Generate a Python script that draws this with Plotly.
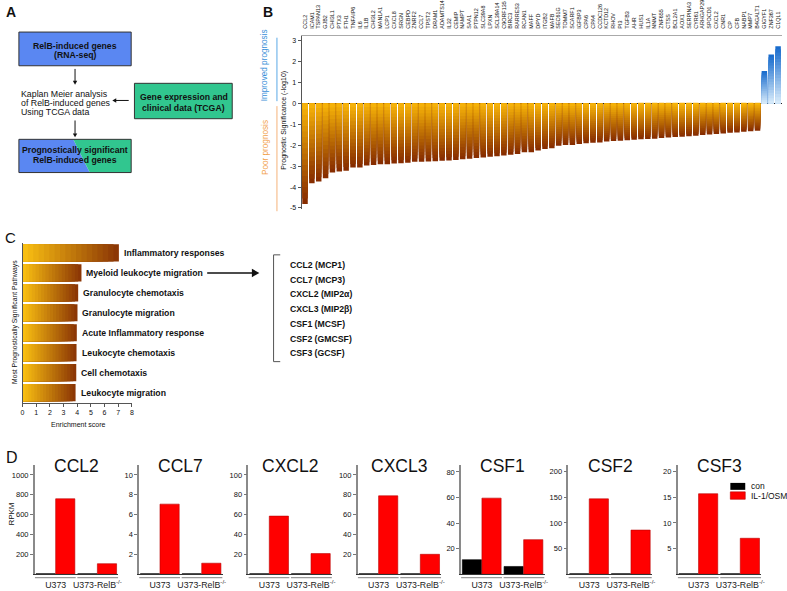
import plotly.graph_objects as go

W, H = 787, 591
def X(px): return px / W
def Y(py): return 1 - py / H

FONT = "Liberation Sans, Arial, sans-serif"

# ---------------- Panel B data ----------------
genes = ["CCL2", "ICAM1", "TSPAN13", "GJB2", "CHI3L1", "PTX3", "FTH1", "TNFAIP6", "IL6", "IL1B",
         "CHI3L2", "MAN1A1", "LCP1", "CXCL8", "SRGN", "CEBPD", "ZNRF2", "CCL7", "TPST2", "DRAM1",
         "ADAMTS14", "IL32", "CEMIP", "NAMPT", "SAA1", "PTPN12", "SLC39A8", "LPXN", "SCL39A14", "C9ORF135",
         "BIRC3", "RARRES3", "RCAN1", "MAFF", "DPYD", "ITGB2", "MAFB", "SEC61G", "TOMM7", "SCARF1",
         "IGFBP3", "CPA6", "CPA4", "CCDC126", "KCTD12", "RHOV", "PI3", "TGFB3", "AHR", "HUS1",
         "IL1A", "NNMT", "ZNF655", "CTSS", "BCL2A1", "AOX1", "SERPINA3", "CYR61", "ARHGAP29", "SPOCD1",
         "CXCL2", "CNR1", "CP", "CFB", "NABP1", "MMP7", "B4GALT1", "GIGYF1", "ZNF367", "C1QL1"]
significance = [-4.81, -3.81, -3.73, -3.57, -3.30, -3.25, -3.22, -3.06, -3.06, -2.97,
                -2.94, -2.90, -2.90, -2.87, -2.86, -2.83, -2.79, -2.78, -2.77, -2.76,
                -2.74, -2.72, -2.70, -2.67, -2.64, -2.61, -2.58, -2.55, -2.52, -2.49,
                -2.45, -2.41, -2.33, -2.33, -2.25, -2.17, -2.14, -2.02, -1.98, -1.98,
                -1.94, -1.90, -1.87, -1.86, -1.81, -1.79, -1.78, -1.76, -1.73, -1.71,
                -1.70, -1.68, -1.65, -1.63, -1.60, -1.59, -1.56, -1.54, -1.51, -1.48,
                -1.46, -1.43, -1.40, -1.38, -1.35, -1.33, -1.30, 1.56, 2.35, 2.75]
b_ticks = [-5, -4, -3, -2, -1, 0, 1, 2, 3]

# ---------------- Panel C data ----------------
pathways = ["Inflammatory responses", "Myeloid leukocyte migration", "Granulocyte chemotaxis",
            "Granulocyte migration", "Acute Inflammatory response", "Leukocyte chemotaxis",
            "Cell chemotaxis", "Leukocyte migration"]
enrichment = [7.05, 4.31, 4.07, 4.02, 3.97, 3.95, 3.93, 3.88]
c_ticks = [0, 1, 2, 3, 4, 5, 6, 7, 8]
chemokines = ["CCL2 (MCP1)", "CCL7 (MCP3)", "CXCL2 (MIP2α)", "CXCL3 (MIP2β)",
              "CSF1 (MCSF)", "CSF2 (GMCSF)", "CSF3 (GCSF)"]

# ---------------- Panel D data ----------------
d_genes = ["CCL2", "CCL7", "CXCL2", "CXCL3", "CSF1", "CSF2", "CSF3"]
cell_lines = ["U373", "U373-RelB<sup>-/-</sup>"]
con_U373 = [4, 0.04, 0.4, 0.4, 11.3, 0.8, 0.08]
con_RelB = [4, 0.04, 0.4, 0.4, 6.0, 0.8, 0.08]
il_U373 = [760, 7.06, 58.5, 79, 59.5, 147, 15.7]
il_RelB = [105, 1.1, 20.7, 20.0, 27, 86, 7.0]
d_tickvals = [[200, 400, 600, 800, 1000], [2, 4, 6, 8, 10], [20, 40, 60, 80, 100],
              [20, 40, 60, 80, 100], [20, 40, 60, 80], [50, 100, 150, 200], [5, 10, 15, 20]]

# layout config (not data)
d_ymax = [1100, 11, 110, 110, 85.4, 213, 21.3]
d_left = [33, 138, 248, 358, 462, 570, 680]
D_W = 84
D_TOP, D_BOT = 466, 576

def lerp(c1, c2, t):
    return "rgb(%d,%d,%d)" % tuple(round(a + (b - a) * t) for a, b in zip(c1, c2))

ORANGE_FAR, ORANGE_NEAR = (135, 45, 0), (246, 178, 8)
BLUE_FAR, BLUE_NEAR = (25, 108, 205), (214, 234, 250)
C_FAR, C_NEAR = (140, 55, 5), (248, 190, 18)

fig = go.Figure()
NL = 18

# Panel B gradient bars (overlaid layers)
for k in range(NL):
    frac = (NL - k) / NL
    t = k / (NL - 1)
    cols = [lerp(ORANGE_FAR, ORANGE_NEAR, t) if v < 0 else lerp(BLUE_FAR, BLUE_NEAR, t)
            for v in significance]
    fig.add_trace(go.Bar(x=genes, y=[v * frac for v in significance], marker=dict(color=cols, line=dict(width=0)),
                         width=0.8, xaxis="x", yaxis="y", showlegend=False,
                         hoverinfo="x+y" if k == 0 else "skip"))

# Panel C gradient bars
for k in range(NL):
    frac = (NL - k) / NL
    t = k / (NL - 1)
    fig.add_trace(go.Bar(y=pathways, x=[v * frac for v in enrichment], orientation="h",
                         marker=dict(color=lerp(C_FAR, C_NEAR, t), line=dict(width=0)),
                         width=0.86, xaxis="x2", yaxis="y2", showlegend=False,
                         hoverinfo="x+y" if k == 0 else "skip"))

# Panel D bars
for i in range(7):
    xa, ya = "x%d" % (i + 3), "y%d" % (i + 3)
    fig.add_trace(go.Bar(x=cell_lines, y=[con_U373[i], con_RelB[i]], name="con",
                         marker=dict(color="black", line=dict(color="black", width=0.6)),
                         width=0.46, offset=-0.47, xaxis=xa, yaxis=ya, showlegend=False))
    fig.add_trace(go.Bar(x=cell_lines, y=[il_U373[i], il_RelB[i]], name="IL-1/OSM",
                         marker=dict(color="#ff0000", line=dict(color="#b80000", width=0.6)),
                         width=0.46, offset=0.0, xaxis=xa, yaxis=ya, showlegend=False))

layout = dict(
    width=W, height=H, margin=dict(l=0, r=0, t=0, b=0),
    paper_bgcolor="white", plot_bgcolor="white", barmode="overlay",
    font=dict(family=FONT, color="#111"), hovermode="closest",
)

layout["xaxis"] = dict(domain=[X(301.5), X(784.5)], anchor="y", side="top", type="category",
                       tickmode="array", tickvals=genes, ticktext=genes, tickangle=-90,
                       tickfont=dict(size=5.4, color="#111"), showline=True, linecolor="#aaaaaa",
                       linewidth=1, ticks="", ticklabelstandoff=5, showgrid=False, zeroline=False,
                       range=[-0.5, 69.5])
layout["yaxis"] = dict(domain=[Y(208), Y(33)], anchor="x", range=[-5.06, 3.25],
                       tickmode="array", tickvals=b_ticks, ticktext=[str(v) for v in b_ticks],
                       ticks="outside", ticklen=3, tickcolor="#555", tickfont=dict(size=7),
                       showline=True, linecolor="#555", linewidth=1, showgrid=False,
                       zeroline=True, zerolinecolor="#222", zerolinewidth=1.2)

layout["xaxis2"] = dict(domain=[X(20.7), X(130.7)], anchor="y2", range=[0, 8],
                        tickmode="array", tickvals=c_ticks, ticks="outside", ticklen=3,
                        tickcolor="#555", tickfont=dict(size=7), showline=True, linecolor="#555",
                        linewidth=1, showgrid=False, zeroline=False)
layout["yaxis2"] = dict(domain=[Y(403), Y(242)], anchor="x2", type="category",
                        categoryorder="array", categoryarray=pathways, range=[7.5, -0.5],
                        showticklabels=False, ticks="", showline=True, linecolor="#555",
                        linewidth=1, showgrid=False, zeroline=False)

shapes = []
annotations = []

for i in range(7):
    n = i + 3
    x0 = d_left[i]
    layout["xaxis%d" % n] = dict(domain=[X(x0), X(x0 + D_W)], anchor="y%d" % n, type="category",
                                 range=[-0.5, 1.5], ticks="", tickfont=dict(size=8.8, color="#222"),
                                 showline=True, linecolor="#333", linewidth=1.3, showgrid=False,
                                 zeroline=False, ticklabelstandoff=2)
    layout["yaxis%d" % n] = dict(domain=[Y(D_BOT), Y(D_TOP)], anchor="x%d" % n,
                                 range=[0, d_ymax[i]], tickmode="array", tickvals=d_tickvals[i],
                                 ticks="outside", ticklen=3, tickcolor="#777",
                                 tickfont=dict(size=7.5), showline=True, linecolor="#8a8a8a",
                                 linewidth=1.6, showgrid=False, zeroline=False)
    # group underlines
    for g0, g1 in [(-0.5, 0.48), (0.52, 1.5)]:
        shapes.append(dict(type="line", xref="x%d" % n, yref="paper", x0=g0, x1=g1,
                           y0=Y(579.5), y1=Y(579.5), line=dict(color="#9a9a9a", width=1.4)))
    annotations.append(dict(text=d_genes[i], x=X(x0 + D_W / 2), y=Y(467), xref="paper", yref="paper",
                            showarrow=False, font=dict(size=17.5, color="#111"), xanchor="center",
                            yanchor="middle"))

# Panel D legend (manual)
shapes.append(dict(type="rect", xref="paper", yref="paper", x0=X(733), x1=X(748), y0=Y(491), y1=Y(484),
                   fillcolor="black", line=dict(width=0)))
shapes.append(dict(type="rect", xref="paper", yref="paper", x0=X(733), x1=X(748), y0=Y(500.5), y1=Y(493),
                   fillcolor="#ff0000", line=dict(color="#b80000", width=0.6)))
annotations.append(dict(text="con", x=X(752), y=Y(487.5), xref="paper", yref="paper", showarrow=False,
                        xanchor="left", yanchor="middle", font=dict(size=8.5)))
annotations.append(dict(text="IL-1/OSM", x=X(752), y=Y(496.8), xref="paper", yref="paper", showarrow=False,
                        xanchor="left", yanchor="middle", font=dict(size=8.5)))
annotations.append(dict(text="RPKM", x=X(10), y=Y(515), xref="paper", yref="paper", showarrow=False,
                        textangle=-90, font=dict(size=8), xanchor="center", yanchor="middle"))

# Panel letters
for txt_, px, py, sz, bold in [("A", 9, 9, 14, True), ("B", 268, 9, 14, True),
                               ("C", 9, 236, 15, False), ("D", 10, 458, 16, False)]:
    annotations.append(dict(text="<b>%s</b>" % txt_ if bold else txt_, x=X(px), y=Y(py), xref="paper",
                            yref="paper", showarrow=False, font=dict(size=sz, color="#111"),
                            xanchor="center", yanchor="middle"))

# ---------------- Panel A (flowchart) ----------------
BLUE_BOX, GREEN_BOX = "#5a87f2", "#31c68f"
shapes.append(dict(type="rect", xref="paper", yref="paper", x0=X(17), x1=X(130), y0=Y(63.3), y1=Y(29.3),
                   fillcolor=BLUE_BOX, line=dict(color="#333", width=1)))
shapes.append(dict(type="rect", xref="paper", yref="paper", x0=X(133.3), x1=X(231.7), y0=Y(116.7), y1=Y(81),
                   fillcolor=GREEN_BOX, line=dict(color="#333", width=1)))
def ppath(pts, close=True):
    return "M " + " L ".join("%f,%f" % (X(a), Y(b)) for a, b in pts) + (" Z" if close else "")
shapes.append(dict(type="path", xref="paper", yref="paper",
                   path=ppath([(17, 137.5), (71.7, 137.5), (88.3, 171), (17, 171)]),
                   fillcolor=BLUE_BOX, line=dict(width=0)))
shapes.append(dict(type="path", xref="paper", yref="paper",
                   path=ppath([(71.7, 137.5), (130, 137.5), (130, 171), (88.3, 171)]),
                   fillcolor=GREEN_BOX, line=dict(width=0)))
shapes.append(dict(type="rect", xref="paper", yref="paper", x0=X(17), x1=X(130), y0=Y(171), y1=Y(137.5),
                   line=dict(color="#333", width=1)))

def txt(s, px, py, size=8.7, bold=False, anchor="center", color="#111", angle=0):
    annotations.append(dict(text="<b>%s</b>" % s if bold else s, x=X(px), y=Y(py), xref="paper",
                            yref="paper", showarrow=False, xanchor=anchor, yanchor="middle",
                            font=dict(size=size, color=color), textangle=angle))

txt("RelB-induced genes", 73.5, 43.3, bold=True)
txt("(RNA-seq)", 73.5, 52.7, bold=True)
txt("Gene expression and", 183, 95, bold=True)
txt("clinical data (TCGA)", 183, 106, bold=True)
txt("Prognostically significant", 73.5, 148.3, bold=True)
txt("RelB-induced genes", 73.5, 158.3, bold=True)
txt("Kaplan Meier analysis", 17.3, 91.3, size=8.8, anchor="left")
txt("of RelB-induced genes", 17.3, 100.7, size=8.8, anchor="left")
txt("Using TCGA data", 17.3, 110, size=8.8, anchor="left")

def arrow(x1, y1, x0, y0, width=1.0, hl=4.0, hw=2.2):
    # head tip at (x1, y1), tail at (x0, y0), in pixels; drawn as shapes
    dx, dy = x1 - x0, y1 - y0
    L = (dx * dx + dy * dy) ** 0.5
    ux, uy = dx / L, dy / L
    bx, by = x1 - ux * hl, y1 - uy * hl
    shapes.append(dict(type="line", xref="paper", yref="paper", x0=X(x0), y0=Y(y0),
                       x1=X(bx + ux * 0.5), y1=Y(by + uy * 0.5), line=dict(color="#111", width=width)))
    shapes.append(dict(type="path", xref="paper", yref="paper",
                       path=ppath([(x1, y1), (bx - uy * hw, by + ux * hw), (bx + uy * hw, by - ux * hw)]),
                       fillcolor="#111", line=dict(width=0)))

arrow(73.5, 82.5, 73.5, 66.5)
arrow(111, 98.3, 127.5, 98.3)
arrow(73.5, 135.5, 73.5, 118.5)

# ---------------- Panel B side labels ----------------
txt("Prognostic Significance (-log10)", 283.5, 118, size=7, angle=-90)
txt("Improved prognosis", 265, 62.5, size=8.2, color="#3a90d8", angle=-90)
txt("Poor prognosis", 265, 146, size=8.2, color="#f2a24c", angle=-90)
shapes.append(dict(type="line", xref="paper", yref="paper", x0=X(276.7), x1=X(276.7), y0=Y(35), y1=Y(99),
                   line=dict(color="#5aa8e6", width=1)))
shapes.append(dict(type="line", xref="paper", yref="paper", x0=X(276.7), x1=X(276.7), y0=Y(104), y1=Y(210),
                   line=dict(color="#f5b27a", width=1)))

# ---------------- Panel C labels ----------------
for p, v in zip(pathways, enrichment):
    annotations.append(dict(text="<b>%s</b>" % p, x=v, y=p, xref="x2", yref="y2", showarrow=False,
                            xanchor="left", yanchor="middle", xshift=3, font=dict(size=8.7, color="#111")))
txt("Most Prognostically Significant Pathways", 13.3, 321.5, size=6.8, angle=-90)
txt("Enrichment score", 76.7, 425, size=7)
arrow(259, 272.3, 206.5, 272.3, width=1.6, hl=7.5, hw=4.2)
shapes.append(dict(type="path", xref="paper", yref="paper",
                   path=ppath([(280, 254), (273.3, 254), (273.3, 361.7), (280, 361.7)], close=False),
                   line=dict(color="#555", width=1)))
for j, c in enumerate(chemokines):
    txt(c, 288.3, 264 + j * 14.88, size=8.7, bold=True, anchor="left")

layout["shapes"] = shapes
layout["annotations"] = annotations
fig.update_layout(**layout)
fig.write_html("out.html", config={"displayModeBar": False},
               post_script="document.body.style.margin='0';document.body.style.overflow='hidden';")
